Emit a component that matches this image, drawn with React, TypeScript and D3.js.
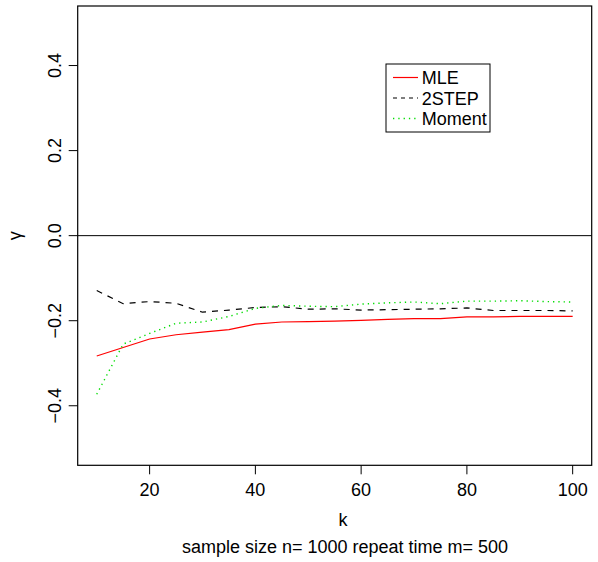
import React from "react";
import * as d3 from "d3";

const kValues = [10, 15, 20, 25, 30, 35, 40, 45, 50, 55, 60, 65, 70, 75, 80, 85, 90, 95, 100];
const mle = [-0.283, -0.263, -0.243, -0.233, -0.227, -0.221, -0.208, -0.203, -0.202, -0.201, -0.199, -0.197, -0.195, -0.195, -0.191, -0.191, -0.190, -0.190, -0.190];
const twoStep = [-0.129, -0.160, -0.155, -0.159, -0.180, -0.175, -0.169, -0.167, -0.173, -0.172, -0.175, -0.174, -0.173, -0.172, -0.170, -0.176, -0.176, -0.176, -0.177];
const moment = [-0.373, -0.255, -0.230, -0.206, -0.203, -0.190, -0.171, -0.164, -0.166, -0.167, -0.161, -0.158, -0.156, -0.160, -0.154, -0.154, -0.153, -0.155, -0.156];
const xTicks = [20, 40, 60, 80, 100];
const yTicks = [-0.4, -0.2, 0.0, 0.2, 0.4];
const seriesNames = ["MLE", "2STEP", "Moment"];

const FONT = "'Liberation Sans', Arial, Helvetica, sans-serif";

export default function App() {
  const W = 598, H = 562;
  const left = 77.7, right = 591.7, top = 6, bottom = 465.3;
  const x = d3.scaleLinear().domain([6.4, 103.6]).range([left, right]);
  const y = d3.scaleLinear().domain([-0.54, 0.54]).range([bottom, top]);
  const line = d3.line<number>().x((_, i) => x(kValues[i])).y((d) => y(d));

  const series = [
    { name: seriesNames[0], data: mle, color: "#ff0000", dash: "none", width: 1.2 },
    { name: seriesNames[1], data: twoStep, color: "#000000", dash: "6,6", width: 1.2 },
    { name: seriesNames[2], data: moment, color: "#00dd00", dash: "1.3,4", width: 1.4 },
  ];

  const legX = 386, legY = 64, legW = 104, legH = 68;
  const rowY = [77.5, 98, 118.5];
  const fs = 18;

  return (
    <svg width={W} height={H} style={{ position: "absolute", left: 0, top: 0 }} fontFamily={FONT}>
      <rect x={0} y={0} width={W} height={H} fill="#fff" />
      <defs>
        <clipPath id="plotclip">
          <rect x={left} y={top} width={right - left} height={bottom - top} />
        </clipPath>
      </defs>
      <line x1={left} x2={right} y1={y(0)} y2={y(0)} stroke="#000" strokeWidth={1} />
      <g clipPath="url(#plotclip)">
        {series.map((s) => (
          <path key={s.name} d={line(s.data) || ""} fill="none" stroke={s.color} strokeWidth={s.width} strokeDasharray={s.dash} />
        ))}
      </g>
      <rect x={left} y={top} width={right - left} height={bottom - top} fill="none" stroke="#000" strokeWidth={1.2} />
      {xTicks.map((t) => (
        <g key={t}>
          <line x1={x(t)} x2={x(t)} y1={bottom} y2={bottom + 9} stroke="#000" strokeWidth={1} />
          <text x={x(t)} y={495.5} fontSize={fs} textAnchor="middle" fill="#000">{t}</text>
        </g>
      ))}
      {yTicks.map((t) => (
        <g key={t}>
          <line x1={left - 9} x2={left} y1={y(t)} y2={y(t)} stroke="#000" strokeWidth={1} />
          <text transform={`translate(${61},${y(t)}) rotate(-90)`} fontSize={fs} textAnchor="middle" fill="#000">
            {t < 0 ? "\u2212" + Math.abs(t).toFixed(1) : t.toFixed(1)}
          </text>
        </g>
      ))}
      <text x={343} y={526} fontSize={fs} textAnchor="middle">k</text>
      <text transform={`translate(${21},${y(0)}) rotate(-90)`} fontSize={fs} textAnchor="middle">γ</text>
      <text x={345} y={553} fontSize={fs} textAnchor="middle">sample size n= 1000 repeat time m= 500</text>
      <rect x={legX} y={legY} width={legW} height={legH} fill="#fff" stroke="#000" strokeWidth={1} />
      {series.map((s, i) => (
        <g key={s.name}>
          <line x1={393} x2={418} y1={rowY[i]} y2={rowY[i]} stroke={s.color} strokeWidth={s.width} strokeDasharray={s.dash === "6,6" ? "4,4" : s.dash} />
          <text x={421.7} y={rowY[i] + 6.5} fontSize={fs}>{s.name}</text>
        </g>
      ))}
    </svg>
  );
}
